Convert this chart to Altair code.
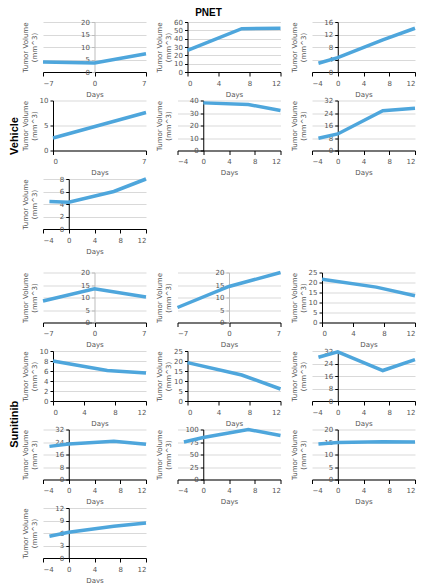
import altair as alt
import pandas as pd

# ---------------- data ----------------
# Vehicle
V1_DAYS = [-7, 0, 7]
V1_VOL = [4.0, 3.6, 7.3]
V2_DAYS = [0, 7, 12]
V2_VOL = [26.0, 52.0, 52.5]
V3_DAYS = [-3, 0, 7, 12]
V3_VOL = [2.8, 4.6, 10.3, 14.0]
V4_DAYS = [0, 7]
V4_VOL = [2.5, 7.6]
V5_DAYS = [0, 7, 12]
V5_VOL = [38.1, 36.8, 32.0]
V6_DAYS = [-3, 0, 7, 12]
V6_VOL = [7.8, 10.6, 25.5, 27.0]
V7_DAYS = [-3, 0, 7, 12]
V7_VOL = [4.4, 4.3, 6.0, 8.0]

# Sunitinib
S1_DAYS = [-7, 0, 7]
S1_VOL = [8.6, 13.5, 10.2]
S2_DAYS = [-7, 0, 7]
S2_VOL = [6.0, 14.4, 20.0]
S3_DAYS = [0, 7, 12]
S3_VOL = [21.6, 17.7, 13.4]
S4_DAYS = [0, 7, 12]
S4_VOL = [8.0, 6.1, 5.6]
S5_DAYS = [0, 7, 12]
S5_VOL = [19.2, 13.0, 6.0]
S6_DAYS = [-3, 0, 7, 12]
S6_VOL = [28.0, 31.5, 19.5, 26.5]
S7_DAYS = [-3, 0, 7, 12]
S7_VOL = [21.2, 22.7, 24.5, 22.5]
S8_DAYS = [-3, 0, 7, 12]
S8_VOL = [75.0, 84.0, 100.0, 88.0]
S9_DAYS = [-3, 0, 7, 12]
S9_VOL = [14.2, 14.8, 15.1, 15.0]
S10_DAYS = [-3, 0, 7, 12]
S10_VOL = [5.2, 6.2, 7.6, 8.4]

# tick labels
X_TICKS_PM7 = [-7, 0, 7]
X_TICKS_0_7 = [0, 7]
X_TICKS_0_12 = [0, 4, 8, 12]
X_TICKS_M4_12 = [-4, 0, 4, 8, 12]
Y_TICKS_20_5 = [0, 5, 10, 15, 20]
Y_TICKS_60_10 = [0, 10, 20, 30, 40, 50, 60]
Y_TICKS_16_4 = [0, 4, 8, 12, 16]
Y_TICKS_10_5 = [0, 5, 10]
Y_TICKS_40_10 = [0, 10, 20, 30, 40]
Y_TICKS_32_8 = [0, 8, 16, 24, 32]
Y_TICKS_8_2 = [0, 2, 4, 6, 8]
Y_TICKS_25_5 = [0, 5, 10, 15, 20, 25]
Y_TICKS_10_2 = [0, 2, 4, 6, 8, 10]
Y_TICKS_100_25 = [0, 25, 50, 75, 100]
Y_TICKS_12_3 = [0, 3, 6, 9, 12]

Y_TITLE = ["Tumor Volume", "(mm^3)"]
X_TITLE = "Days"

# ---------------- styling / layout ----------------
W = 103            # layout width of every panel
ZERO_INSET = 10    # panels whose day axis starts at 0 begin this far in
H = 50
TITLE_X = -22      # y-axis title position relative to the panel's left edge
COL_SP = 31.5
ROW_SP = 28.5
SECTION_SP = 11.5
LINE_COLOR = "#4ea6dc"
TEXT_COLOR = "#555555"
FONT = "DejaVu Sans"
BOLD_FONT = "Liberation Sans"


def panel(days, vol, xticks, yticks, gray_zero=False):
    xmin, xmax = xticks[0], xticks[-1]
    ymax = yticks[-1]
    if xmin < 0:
        x_range = [0, W]
        axis_pos = (0 - xmin) / (xmax - xmin) * W
    else:
        x_range = [ZERO_INSET, W]
        axis_pos = ZERO_INSET
    df = pd.DataFrame({"Days": days, "Vol": vol})
    y_axis = alt.Axis(
        values=yticks,
        offset=-axis_pos,
        title=Y_TITLE,
        titleX=TITLE_X - axis_pos,
        titleY=H / 2,
        titleAngle=270,
        titleAlign="center",
        titleBaseline="top",
        titleLineHeight=9,
        grid=True,
        gridColor="#d9d9d9",
        domainColor="#bdbdbd" if gray_zero else "#000000",
        tickColor="#bdbdbd" if gray_zero else "#000000",
        tickSize=3,
        labelPadding=2,
    )
    x_axis = alt.Axis(
        values=xticks,
        title=X_TITLE,
        grid=False,
        domainColor="#000000",
        tickColor="#000000",
        tickSize=4,
        labelPadding=3,
        titlePadding=4,
    )
    return (
        alt.Chart(df)
        .mark_line(color=LINE_COLOR, strokeWidth=3.5)
        .encode(
            x=alt.X("Days:Q",
                    scale=alt.Scale(domain=[xmin, xmax], range=x_range, nice=False, zero=False),
                    axis=x_axis),
            y=alt.Y("Vol:Q", scale=alt.Scale(domain=[0, ymax], nice=False), axis=y_axis),
        )
        .properties(width=W, height=H)
    )


def section_title(text):
    return alt.TitleParams(text, orient="left", anchor="middle", font=BOLD_FONT,
                           fontSize=11, fontWeight="bold", color="#000000", offset=1)


vehicle = alt.concat(
    panel(V1_DAYS, V1_VOL, X_TICKS_PM7, Y_TICKS_20_5, gray_zero=True),
    panel(V2_DAYS, V2_VOL, X_TICKS_0_12, Y_TICKS_60_10),
    panel(V3_DAYS, V3_VOL, X_TICKS_M4_12, Y_TICKS_16_4),
    panel(V4_DAYS, V4_VOL, X_TICKS_0_7, Y_TICKS_10_5),
    panel(V5_DAYS, V5_VOL, X_TICKS_M4_12, Y_TICKS_40_10),
    panel(V6_DAYS, V6_VOL, X_TICKS_M4_12, Y_TICKS_32_8),
    panel(V7_DAYS, V7_VOL, X_TICKS_M4_12, Y_TICKS_8_2),
    columns=3,
    spacing={"row": ROW_SP, "column": COL_SP},
    bounds="flush",
    title=section_title("Vehicle"),
)

sunitinib = alt.concat(
    panel(S1_DAYS, S1_VOL, X_TICKS_PM7, Y_TICKS_20_5, gray_zero=True),
    panel(S2_DAYS, S2_VOL, X_TICKS_PM7, Y_TICKS_20_5, gray_zero=True),
    panel(S3_DAYS, S3_VOL, X_TICKS_0_12, Y_TICKS_25_5),
    panel(S4_DAYS, S4_VOL, X_TICKS_0_12, Y_TICKS_10_2),
    panel(S5_DAYS, S5_VOL, X_TICKS_0_12, Y_TICKS_25_5),
    panel(S6_DAYS, S6_VOL, X_TICKS_M4_12, Y_TICKS_32_8),
    panel(S7_DAYS, S7_VOL, X_TICKS_M4_12, Y_TICKS_32_8),
    panel(S8_DAYS, S8_VOL, X_TICKS_M4_12, Y_TICKS_100_25),
    panel(S9_DAYS, S9_VOL, X_TICKS_M4_12, Y_TICKS_20_5),
    panel(S10_DAYS, S10_VOL, X_TICKS_M4_12, Y_TICKS_12_3),
    columns=3,
    spacing={"row": ROW_SP, "column": COL_SP},
    bounds="flush",
    title=section_title("Sunitinib"),
)

chart = (
    alt.vconcat(
        vehicle,
        sunitinib,
        spacing=SECTION_SP,
        title=alt.TitleParams("PNET", anchor="middle", font=BOLD_FONT, fontSize=10,
                              fontWeight="bold", color="#000000", offset=0, dx=-7),
    )
    .properties(padding=0, background="#ffffff")
    .configure_axis(
        labelFont=FONT,
        labelFontSize=7,
        labelColor=TEXT_COLOR,
        titleFont=FONT,
        titleFontSize=7,
        titleFontWeight="normal",
        titleColor=TEXT_COLOR,
    )
    .configure_view(strokeWidth=0)
)

chart.save("out.html", embed_options={"renderer": "svg", "actions": False})
